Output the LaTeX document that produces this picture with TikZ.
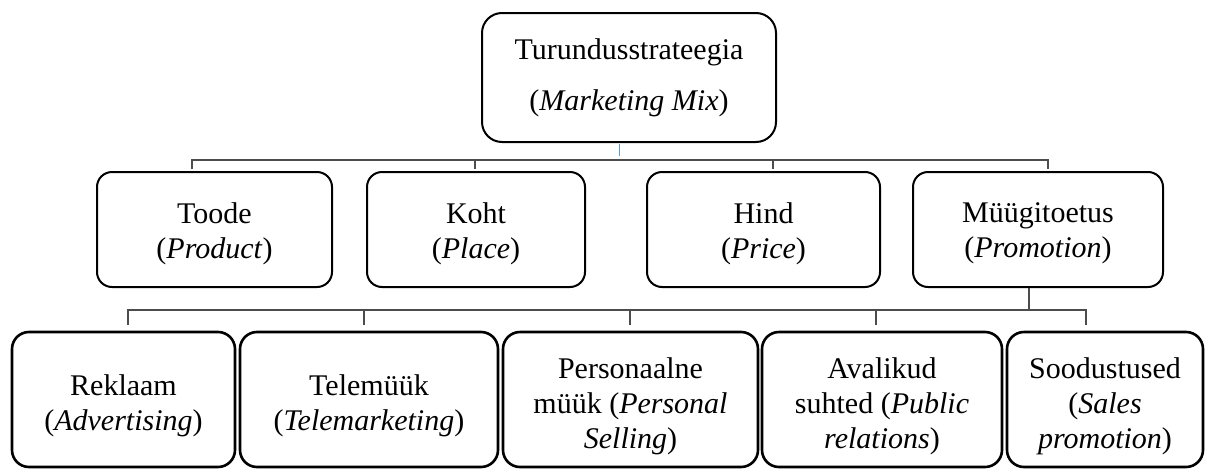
\documentclass[tikz,border=0pt]{standalone}
\usepackage{fontspec}
\setmainfont{Liberation Serif}
\usetikzlibrary{calc}
\definecolor{linkgray}{gray}{0.3}
\definecolor{markblue}{RGB}{91,155,213}
\tikzset{
  box/.style={draw=black, rounded corners=15pt, line width=2pt, inner sep=0pt},
  topbox/.style={box, rounded corners=20pt},
  leafbox/.style={box, line width=2.6pt, rounded corners=17pt},
  lbl/.style={align=center, inner sep=0pt, font=\fontsize{30}{35}\selectfont},
  toplbl/.style={lbl, font=\fontsize{30}{51}\selectfont},
  link/.style={draw=linkgray, line width=1.2pt},
  bluemark/.style={draw=markblue, line width=1pt},
}
\begin{document}
\begin{tikzpicture}[x=1pt,y=-1pt]
\useasboundingbox (0,0) rectangle (1205,469);

% root
\node[topbox, minimum width=294pt, minimum height=129pt] (root) at (629,77.5) {};
\node[toplbl] (root-t) at (root.center) {Turundusstrateegia\\(\textit{Marketing Mix})};

% the four Ps
\node[box, minimum width=235pt, minimum height=115pt] (toode) at (214.5,229.5) {};
\node[box, minimum width=218pt, minimum height=115pt] (koht)  at (476,229.5) {};
\node[box, minimum width=233pt, minimum height=115pt] (hind)  at (763.5,229.5) {};
\node[box, minimum width=250pt, minimum height=115pt] (promo) at (1038,229.5) {};
\node[lbl] (toode-t) at ($(toode.center)+(0,4)$) {Toode\\(\textit{Product})};
\node[lbl] (koht-t)  at ($(koht.center)+(0,4)$)  {Koht\\(\textit{Place})};
\node[lbl] (hind-t)  at ($(hind.center)+(0,4)$)  {Hind\\(\textit{Price})};
\node[lbl] (promo-t) at ($(promo.center)+(0,4)$) {Müügitoetus\\(\textit{Promotion})};

% promotion tools
\node[leafbox, minimum width=223pt, minimum height=135pt] (rekl) at (123.5,399.5) {};
\node[leafbox, minimum width=258pt, minimum height=135pt] (tele) at (369,399.5) {};
\node[leafbox, minimum width=255pt, minimum height=135pt] (pers) at (630.5,399.5) {};
\node[leafbox, minimum width=240pt, minimum height=135pt] (aval) at (882,399.5) {};
\node[leafbox, minimum width=196pt, minimum height=135pt] (sood) at (1105,399.5) {};
\node[lbl] (rekl-t) at ($(rekl.center)+(0,6.5)$) {Reklaam\\(\textit{Advertising})};
\node[lbl] (tele-t) at ($(tele.center)+(0,6.5)$) {Telemüük\\(\textit{Telemarketing})};
\node[lbl] (pers-t) at ($(pers.center)+(0,6.5)$) {Personaalne\\müük (\textit{Personal}\\\textit{Selling})};
\node[lbl] (aval-t) at ($(aval.center)+(0,6.5)$) {Avalikud\\suhted (\textit{Public}\\\textit{relations})};
\node[lbl] (sood-t) at ($(sood.center)+(0,6.5)$) {Soodustused\\(\textit{Sales}\\\textit{promotion})};

% upper bus
\coordinate (tapA) at (192,160);
\coordinate (tapB) at (475,160);
\coordinate (tapC) at (773,160);
\coordinate (tapD) at (1048,160);
\draw[link] ([yshift=2pt]tapA |- toode.north) -- (tapA) -- (tapD) -- ([yshift=2pt]tapD |- promo.north);
\draw[link] (tapB) -- ([yshift=2pt]tapB |- koht.north);
\draw[link] (tapC) -- ([yshift=2pt]tapC |- hind.north);
\coordinate (markEnd) at (619,156);
\draw[bluemark] ([yshift=-1pt]markEnd |- root.south) -- (markEnd);

% lower bus
\coordinate (promoTap) at (1029,310);
\draw[link] (promoTap |- promo.south) -- (promoTap);
\coordinate (tapE) at (128,310);
\coordinate (tapF) at (364,310);
\coordinate (tapG) at (630,310);
\coordinate (tapH) at (876,310);
\coordinate (tapI) at (1086,310);
\draw[link] ([yshift=6pt]tapE |- rekl.north) -- (tapE) -- (tapI) -- ([yshift=6pt]tapI |- sood.north);
\draw[link] (tapF) -- ([yshift=6pt]tapF |- tele.north);
\draw[link] (tapG) -- ([yshift=6pt]tapG |- pers.north);
\draw[link] (tapH) -- ([yshift=6pt]tapH |- aval.north);
\end{tikzpicture}
\end{document}
